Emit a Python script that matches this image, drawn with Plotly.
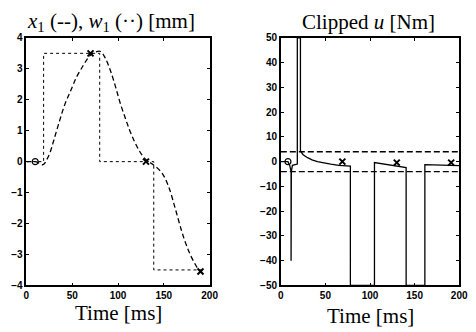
import plotly.graph_objects as go

# ---- Left panel data: x1 (dashed) and w1 (dotted step) [mm]
t_x1 = [0, 5, 9.6, 14, 18, 20, 22, 25.5, 30, 36, 42, 49, 55, 61.7, 66, 70.2, 76, 81, 86,
        91.5, 97, 102, 108, 113, 118, 123, 127, 131, 136, 141, 148, 155, 162.5, 169.5,
        174, 178.4, 183, 187, 190.8, 195]
x1 = [0, 0, 0, -0.05, -0.1, -0.05, 0.05, 0.27, 0.7, 1.3, 1.85, 2.34, 2.75, 3.09, 3.3, 3.45,
      3.55, 3.56, 3.35, 2.96, 2.45, 1.93, 1.4, 0.99, 0.65, 0.36, 0.18, 0.05, -0.05, -0.16,
      -0.37, -0.79, -1.52, -2.25, -2.65, -2.98, -3.25, -3.45, -3.57, -3.62]
t_w1 = [0, 18.8, 80, 139, 195]
w1 = [0, 3.5, 0, -3.5, -3.5]
o_left_t, o_left_v = [9.6], [0]
x_left_t, x_left_v = [70, 130.5, 190], [3.5, 0, -3.55]

# ---- Right panel data: clipped u [Nm]
t_u = [0, 8, 10, 11.5, 11.5, 11.8, 13, 17, 18.5, 18.5, 22, 22, 25, 30, 35, 41, 48, 56,
       65, 78, 78, 105, 105, 140.5, 140.5, 161.5, 161.5, 200]
u = [0, 0, -1.5, -4, -40, -4, -1.5, -1, -1, 50, 50, 4.3, 2.8, 1.6, 0.7, 0, -0.6, -1.0,
     -1.5, -1.8, -50, -50, -0.4, -2.4, -50, -50, -1.2, -1.6]
t_lim = [0, 200]
u_max = [4, 4]
u_min = [-4, -4]
o_right_t, o_right_v = [8], [0]
x_right_t, x_right_v = [69, 130, 191], [0, -0.4, -0.4]

x_ticks = [0, 50, 100, 150, 200]
y_ticks_left = [-4, -3, -2, -1, 0, 1, 2, 3, 4]
y_ticks_right = [-50, -40, -30, -20, -10, 0, 10, 20, 30, 40, 50]

W, H = 476, 332
serif = "Liberation Serif"
tickfont = dict(family="Liberation Sans", size=10, color="black", weight="bold")

fig = go.Figure()
k = dict(showlegend=False, hoverinfo="skip")
fig.add_trace(go.Scatter(x=t_w1, y=w1, mode="lines", line=dict(color="black", width=1, dash="dot", shape="hv"), xaxis="x", yaxis="y", **k))
fig.add_trace(go.Scatter(x=t_x1, y=x1, mode="lines", line=dict(color="black", width=1.3, dash="5px,3px", shape="spline"), xaxis="x", yaxis="y", **k))
fig.add_trace(go.Scatter(x=o_left_t, y=o_left_v, mode="markers", marker=dict(symbol="circle-open", size=6, color="black", line=dict(width=1.2)), xaxis="x", yaxis="y", **k))
fig.add_trace(go.Scatter(x=x_left_t, y=x_left_v, mode="markers", marker=dict(symbol="x-thin", size=6, color="black", line=dict(width=2, color="black")), xaxis="x", yaxis="y", **k))

fig.add_trace(go.Scatter(x=t_lim, y=u_max, mode="lines", line=dict(color="black", width=1.3, dash="6px,3px"), xaxis="x2", yaxis="y2", **k))
fig.add_trace(go.Scatter(x=t_lim, y=u_min, mode="lines", line=dict(color="black", width=1.3, dash="6px,3px"), xaxis="x2", yaxis="y2", **k))
fig.add_trace(go.Scatter(x=t_u, y=u, mode="lines", line=dict(color="black", width=1.3), xaxis="x2", yaxis="y2", **k))
fig.add_trace(go.Scatter(x=o_right_t, y=o_right_v, mode="markers", marker=dict(symbol="circle-open", size=6, color="black", line=dict(width=1.2)), xaxis="x2", yaxis="y2", **k))
fig.add_trace(go.Scatter(x=x_right_t, y=x_right_v, mode="markers", marker=dict(symbol="x-thin", size=6, color="black", line=dict(width=2, color="black")), xaxis="x2", yaxis="y2", **k))

ax_common = dict(showgrid=False, zeroline=False, showline=True, linecolor="black", linewidth=1.5,
                 mirror="ticks", ticks="inside", ticklen=3, tickwidth=1, tickcolor="black",
                 tickfont=tickfont)
ydom = [1 - 290 / H, 1 - 34 / H]
fig.update_layout(
    width=W, height=H, margin=dict(l=0, r=0, t=0, b=0),
    paper_bgcolor="white", plot_bgcolor="white",
    xaxis=dict(domain=[24 / W, 212 / W], range=[0, 200], tickvals=x_ticks, anchor="y", **ax_common),
    yaxis=dict(domain=ydom, range=[-4, 4], tickvals=y_ticks_left, anchor="x", **ax_common),
    xaxis2=dict(domain=[285 / W, 468 / W], range=[0, 200], tickvals=x_ticks, anchor="y2", **ax_common),
    yaxis2=dict(domain=ydom, range=[-50, 50], tickvals=y_ticks_right, anchor="x2", **ax_common),
)

ann = dict(xref="paper", yref="paper", showarrow=False, xanchor="center", yanchor="middle")
fig.add_annotation(x=111 / W, y=1 - 18 / H, text="<i>x</i><sub>1</sub> (--), <i>w</i><sub>1</sub> (··) [mm]",
                   font=dict(family=serif, size=21, color="black"), **ann)
fig.add_annotation(x=375 / W, y=1 - 18 / H, text="Clipped <i>u</i> [Nm]",
                   font=dict(family=serif, size=21, color="black"), **ann)
fig.add_annotation(x=118 / W, y=1 - 319 / H, text="Time [ms]",
                   font=dict(family=serif, size=21, color="black"), **ann)
fig.add_annotation(x=377 / W, y=1 - 322 / H, text="Time [ms]",
                   font=dict(family=serif, size=21, color="black"), **ann)

fig.write_html("out.html")
